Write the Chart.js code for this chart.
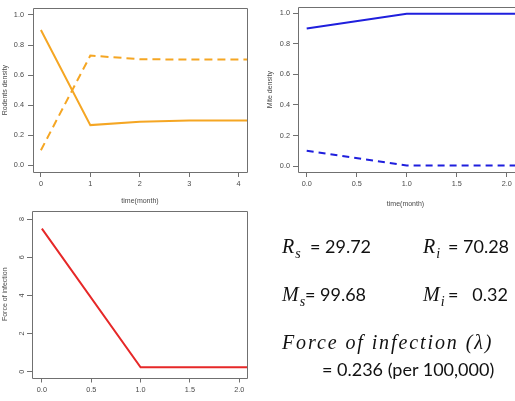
<!DOCTYPE html>
<html><head><meta charset="utf-8">
<script src="https://cdn.jsdelivr.net/npm/chart.js@4.4.1/dist/chart.umd.min.js"></script>
<style>
html,body{margin:0;padding:0;background:#fff;width:515px;height:401px;overflow:hidden}
body{position:relative}
canvas.c{position:absolute}
.t{position:absolute;white-space:nowrap;line-height:1;color:#111}
.n{font-family:Lato,"Open Sans",sans-serif;font-size:18px}
.m{font-family:"Liberation Serif",serif;font-style:italic;font-size:20px}
.sub{font-size:14px;position:relative;top:5px;margin-left:1px}
</style></head>
<body>
<canvas id="c1" class="c" style="left:0;top:0" width="260" height="215"></canvas>
<canvas id="c2" class="c" style="left:255px;top:0" width="260" height="215"></canvas>
<canvas id="c3" class="c" style="left:0;top:200px" width="260" height="201"></canvas>

<div class="t m" style="left:282px;top:236px">R<span class="sub">s</span></div>
<div class="t n" style="left:310px;top:237px">= 29.72</div>
<div class="t m" style="left:423px;top:236px">R<span class="sub">i</span></div>
<div class="t n" style="left:448px;top:237px">= 70.28</div>

<div class="t m" style="left:282px;top:284px">M<span class="sub">s</span></div>
<div class="t n" style="left:305px;top:285px">= 99.68</div>
<div class="t m" style="left:423px;top:284px">M<span class="sub">i</span></div>
<div class="t n" style="left:448px;top:285px">=&nbsp;&nbsp; 0.32</div>

<div class="t m" style="left:282px;top:332px;letter-spacing:1.9px">Force of infection (λ)</div>
<div class="t n" style="left:322px;top:360px">= 0.236 (per 100,000)</div>

<script>
// ---- data ----
const months = [0, 1, 2, 3, 4, 5];
const rodentsSusceptible = [0.90, 0.267, 0.289, 0.297, 0.297, 0.297];
const rodentsInfected    = [0.10, 0.730, 0.706, 0.703, 0.703, 0.703];
const mitesSusceptible   = [0.90, 0.997, 0.997, 0.997, 0.997, 0.997];
const mitesInfected      = [0.10, 0.003, 0.003, 0.003, 0.003, 0.003];
const forceOfInfection   = [7.5, 0.236, 0.236, 0.236, 0.236, 0.236];

const rodentXTicks = [0, 1, 2, 3, 4];
const densityYTicks = [0, 0.2, 0.4, 0.6, 0.8, 1.0];
const halfMonthXTicks = [0, 0.5, 1.0, 1.5, 2.0];
const forceYTicks = [0, 2, 4, 6, 8];

const xTitle = 'time(month)';
const rodentsTitle = 'Rodents density';
const mitesTitle = 'Mite density';
const forceTitle = 'Force of infection';

// ---- helpers ----
const pts = ys => months.map((m, i) => ({x: m, y: ys[i]}));
const AXIS = '#707070';
const LABEL = '#4a4a4a';
const tickFont = {family: '"Liberation Sans", Arial, sans-serif', size: 7.3};
const titleFont = {family: '"Liberation Sans", Arial, sans-serif', size: 7, lineHeight: 1};

const boxPlugin = {
  id: 'box',
  afterDraw(chart, args, opts) {
    const {ctx} = chart;
    const {left, top, right, bottom} = chart.chartArea;
    const l = Math.round(left) + 0.5, t = Math.round(top) + 0.5, b = Math.round(bottom) + 0.5;
    const r = opts.openRight ? chart.width : Math.round(right) + 0.5;
    ctx.save();
    ctx.strokeStyle = AXIS; ctx.lineWidth = 1;
    ctx.beginPath();
    ctx.moveTo(r, b); ctx.lineTo(l, b); ctx.lineTo(l, t); ctx.lineTo(r, t);
    if (!opts.openRight) ctx.lineTo(r, b);
    ctx.stroke();
    ctx.restore();
  }
};

function makeChart(id, cfg) {
  return new Chart(document.getElementById(id), {
    type: 'line',
    data: {datasets: cfg.datasets},
    options: {
      responsive: false, animation: false,
      layout: {padding: cfg.padding},
      plugins: {legend: {display: false}, tooltip: {enabled: false}, box: {openRight: !!cfg.openRight}},
      elements: {point: {radius: 0}, line: {tension: 0, borderWidth: 2}},
      scales: {
        x: {
          type: 'linear', min: cfg.xMin, max: cfg.xMax,
          afterBuildTicks: s => { s.ticks = cfg.xTicks.map(v => ({value: v})); },
          afterFit: s => { s.height = cfg.xH; },
          border: {display: false},
          grid: {drawOnChartArea: false, drawTicks: true, tickLength: 5, color: AXIS},
          ticks: {font: tickFont, color: LABEL, padding: 3, maxRotation: 0, autoSkip: false,
                  callback: cfg.xFmt},
          title: {display: !!cfg.xTitle, text: cfg.xTitle || '', font: titleFont, color: LABEL,
                  padding: {top: 0, bottom: cfg.xTitlePad || 0}}
        },
        y: {
          type: 'linear', min: cfg.yMin, max: cfg.yMax,
          afterBuildTicks: s => { s.ticks = cfg.yTicks.map(v => ({value: v})); },
          afterFit: s => { s.width = cfg.yW; },
          border: {display: false},
          grid: {drawOnChartArea: false, drawTicks: true, tickLength: 5, color: AXIS},
          ticks: Object.assign({font: tickFont, color: LABEL, padding: cfg.yPad, autoSkip: false,
                  callback: cfg.yFmt}, cfg.yTickExtra || {}),
          title: {display: true, text: cfg.yTitle, font: titleFont, color: LABEL,
                  padding: {top: cfg.yTitlePad, bottom: 0}}
        }
      }
    },
    plugins: [boxPlugin]
  });
}

const ORANGE = '#F5A623', BLUE = '#1F1FDD', RED = '#E62828';
const fmt1 = v => Number(v).toFixed(1);
const fmt0 = v => String(v);

makeChart('c1', {
  datasets: [
    {data: pts(rodentsSusceptible), borderColor: ORANGE},
    {data: pts(rodentsInfected), borderColor: ORANGE, borderDash: [8, 5]}
  ],
  padding: {left: 0, top: 5, right: 13, bottom: 0},
  xMin: -0.16, xMax: 4.17, yMin: -0.045, yMax: 1.044,
  xTicks: rodentXTicks, yTicks: densityYTicks, xFmt: fmt0, yFmt: fmt1,
  xH: 43, yW: 33, yPad: 4,
  xTitle: xTitle, xTitlePad: 10.5, yTitle: rodentsTitle, yTitlePad: 2
});

makeChart('c2', {
  datasets: [
    {data: pts(mitesSusceptible), borderColor: BLUE, clip: {left: 0, top: 5, right: 5, bottom: 5}},
    {data: pts(mitesInfected), borderColor: BLUE, borderDash: [7, 5], clip: {left: 0, top: 5, right: 5, bottom: 5}}
  ],
  padding: {left: 0, top: 5, right: 2, bottom: 0},
  openRight: true,
  xMin: -0.087, xMax: 2.063, yMin: -0.039, yMax: 1.039,
  xTicks: halfMonthXTicks, yTicks: densityYTicks, xFmt: fmt1, yFmt: fmt1,
  xH: 43, yW: 43, yPad: 3,
  xTitle: xTitle, xTitlePad: 7.5, yTitle: mitesTitle, yTitlePad: 12
});

makeChart('c3', {
  datasets: [
    {data: pts(forceOfInfection), borderColor: RED}
  ],
  padding: {left: 0, top: 11, right: 13, bottom: 0},
  xMin: -0.1, xMax: 2.078, yMin: -0.3, yMax: 8.42,
  xTicks: halfMonthXTicks, yTicks: forceYTicks, xFmt: fmt1, yFmt: fmt0,
  xH: 23.5, yW: 32, yPad: 3,
  yTickExtra: {minRotation: 90, maxRotation: 90, crossAlign: 'center'},
  yTitle: forceTitle, yTitlePad: 1.5
});
</script>
</body></html>
